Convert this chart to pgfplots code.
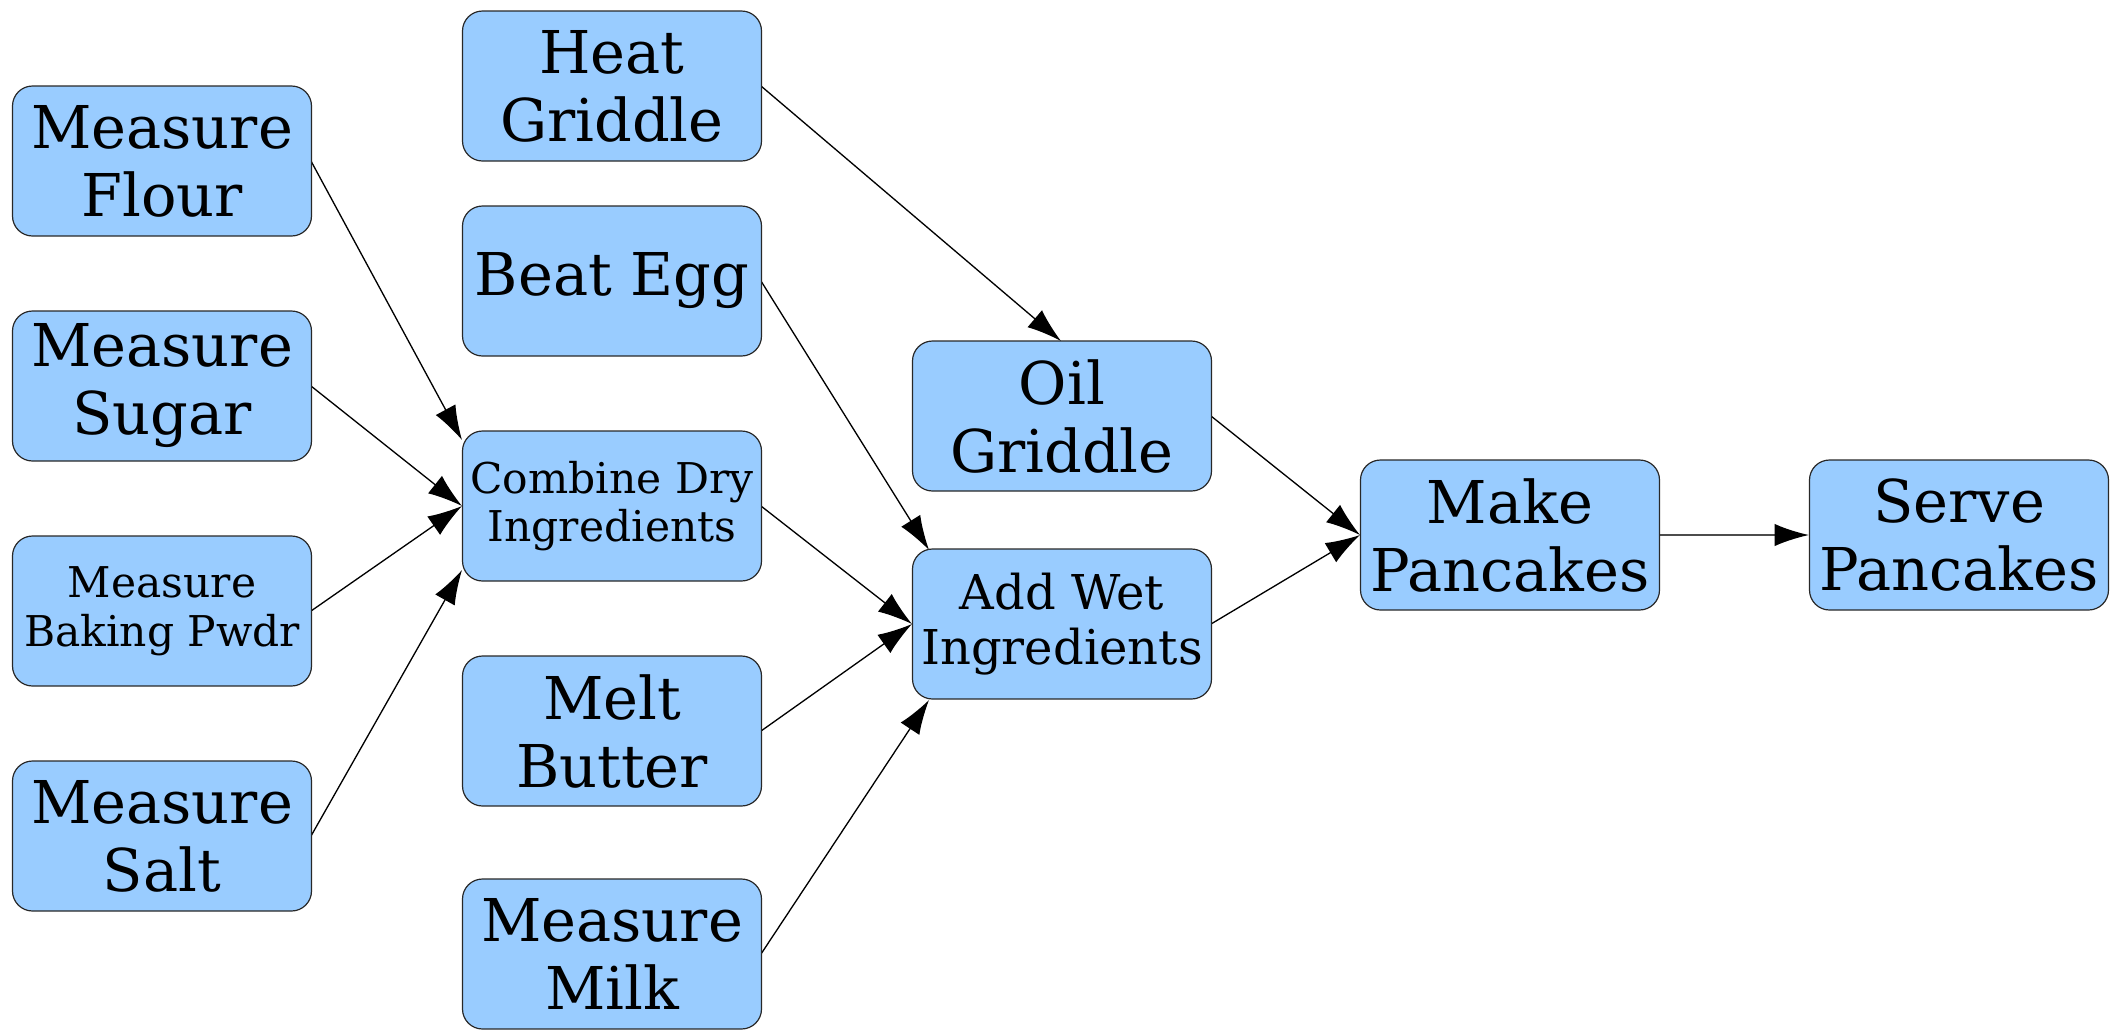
\documentclass[border=0pt]{standalone}
\usepackage{pgfplots}
\pgfplotsset{compat=1.18}
\usepackage{fontspec}
\setmainfont{DejaVu Serif}
\usetikzlibrary{arrows.meta}
\definecolor{boxblue}{RGB}{153,204,255}
\definecolor{boxedge}{RGB}{40,40,40}
\tikzset{
  flowbox/.style={draw=boxedge, line width=0.3pt, fill=boxblue, rounded corners=5pt,
    minimum width=74.75pt, minimum height=37.5pt, inner sep=0pt, align=center,
    font=\fontsize{14.75}{17}\selectfont},
  smallbox/.style={font=\fontsize{10.6}{12.2}\selectfont},
}
\pgfplotsset{arr/.style={black, solid, no markers, line width=0.33pt, -{Latex[length=8.6pt, width=5.6pt, black]}}}
\begin{document}
\begin{tikzpicture}
\begin{axis}[
  scale only axis, width=528pt, height=257.5pt,
  xmin=0, xmax=2112, ymin=0, ymax=1030, y dir=reverse,
  hide axis, clip=false,
]
\path[draw=none] (rel axis cs:0,0) rectangle (rel axis cs:1,1);
% arrows (pixel coordinates of the 2112x1030 reference)
\addplot[arr] coordinates {(311,161) (462,440)};
\addplot[arr] coordinates {(311,386) (462,506)};
\addplot[arr] coordinates {(311,611) (462,506)};
\addplot[arr] coordinates {(311,836) (462,570)};
\addplot[arr] coordinates {(761,86) (1061,341)};
\addplot[arr] coordinates {(761,281) (929,550)};
\addplot[arr] coordinates {(761,506) (912,624)};
\addplot[arr] coordinates {(761,731) (912,624)};
\addplot[arr] coordinates {(761,954) (929,700)};
\addplot[arr] coordinates {(1211,416) (1360,535)};
\addplot[arr] coordinates {(1211,624) (1360,535)};
\addplot[arr, line width=0.45pt, draw=black!70] coordinates {(1659,535) (1809,535)};
% boxes
\node[flowbox] at (axis cs:162,161) {Measure\\Flour};
\node[flowbox] at (axis cs:162,386) {Measure\\Sugar};
\node[flowbox,smallbox] at (axis cs:162,611) {Measure\\Baking Pwdr};
\node[flowbox] at (axis cs:162,836) {Measure\\Salt};
\node[flowbox] at (axis cs:612,86) {Heat\\Griddle};
\node[flowbox] at (axis cs:612,281) {Beat Egg};
\node[flowbox,smallbox] at (axis cs:612,506) {Combine Dry\\Ingredients};
\node[flowbox] at (axis cs:612,731) {Melt\\Butter};
\node[flowbox] at (axis cs:612,954) {Measure\\Milk};
\node[flowbox] at (axis cs:1062,416) {Oil\\Griddle};
\node[flowbox,font=\fontsize{12}{13.9}\selectfont] at (axis cs:1062,624) {Add Wet\\Ingredients};
\node[flowbox] at (axis cs:1510,535) {Make\\Pancakes};
\node[flowbox] at (axis cs:1959,535) {Serve\\Pancakes};
\end{axis}
\end{tikzpicture}
\end{document}
